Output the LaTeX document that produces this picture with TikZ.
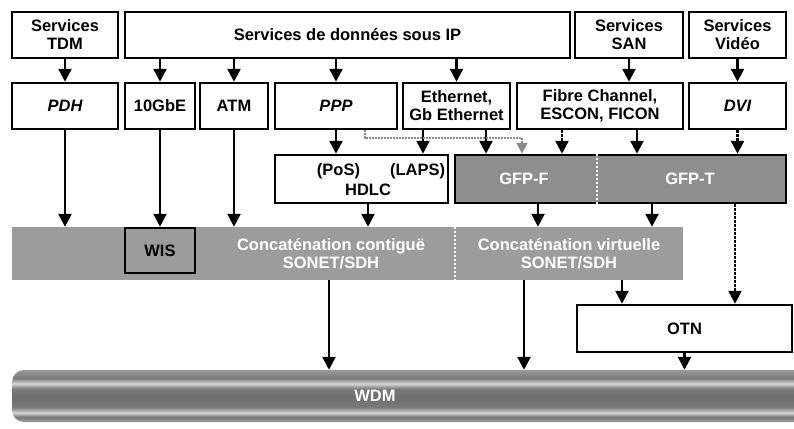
\documentclass[tikz,border=0pt]{standalone}
\usepackage{fontspec}
\setmainfont{Liberation Sans}
\usetikzlibrary{arrows.meta}

\definecolor{bandgray}{HTML}{9C9C9C}
\definecolor{gfpgray}{HTML}{8E8E8E}
\definecolor{busgray}{HTML}{8A8A8A}
\definecolor{wdmedge}{HTML}{9A9A9A}
\definecolor{wdmdark}{HTML}{7A7A7A}
\definecolor{wdmmid}{HTML}{6E6E6E}
\definecolor{wdmlight}{HTML}{D8D8D8}
\pgfdeclareverticalshading{wdmshade}{100bp}{color(0bp)=(wdmedge); color(25bp)=(wdmedge);
    color(30bp)=(wdmdark); color(34bp)=(wdmlight); color(39bp)=(wdmdark); color(50bp)=(wdmmid);
    color(57bp)=(wdmdark); color(62bp)=(wdmlight); color(67bp)=(wdmdark); color(75bp)=(wdmedge);
    color(100bp)=(wdmedge)}
\newcommand{\lblfont}{\fontsize{16.5}{18}\selectfont\bfseries}

\begin{document}
\begin{tikzpicture}[x=1pt,y=-1pt,
    box/.style={draw,line width=2.5pt,fill=white,inner sep=0pt,align=center,font=\lblfont},
    band/.style={fill=bandgray,inner sep=0pt,align=center,font=\lblfont,text=white},
    txt/.style={inner sep=0pt,align=center,font=\lblfont},
    whitetxt/.style={txt,text=white},
    arr/.style={line width=2.5pt,-{Triangle[width=13pt,length=13pt]}},
    dotarr/.style={arr,dash pattern=on 2.5pt off 1.5pt},
    busarr/.style={line width=2pt,busgray,dash pattern=on 2pt off 1pt,-{Triangle[width=11pt,length=11pt]}},
    divider/.style={white,line width=1.5pt,dash pattern=on 2pt off 2pt}]

    \useasboundingbox (0,0) rectangle (794,428);

    \coordinate (ethHdlc) at (423,0);
    \coordinate (ethGfp) at (486,0);
    \coordinate (pppBus) at (365,138);
    \coordinate (busDrop) at (522,0);
    \coordinate (fcGfpF) at (562,0);
    \coordinate (fcGfpT) at (637,0);
    \coordinate (gfpSplit) at (597,0);
    \coordinate (gfpVirtF) at (538,0);
    \coordinate (gfpVirtT) at (652,0);
    \coordinate (gfpOtn) at (735,0);
    \coordinate (virtOtn) at (622,0);
    \coordinate (contigWdm) at (329,0);
    \coordinate (virtWdm) at (524,0);
    \coordinate (wdmNE) at (794,370);
    \coordinate (wdmSW) at (12,422);
    \coordinate (wdmSE) at (794,422);

    \node[box,minimum width=106pt,minimum height=46pt] (tdm) at (65,35) {Services\\TDM};
    \node[box,minimum width=445pt,minimum height=46pt] (ip) at (347.5,35) {Services de données sous IP};
    \node[box,minimum width=108pt,minimum height=46pt] (san) at (629,35) {Services\\SAN};
    \node[box,minimum width=97pt,minimum height=46pt] (video) at (737.5,35) {Services\\Vidéo};

    \node[box,minimum width=106pt,minimum height=46pt] (pdh) at (65,106) {\itshape PDH};
    \node[box,minimum width=70pt,minimum height=46pt] (tengbe) at (160,106) {10GbE};
    \node[box,minimum width=68pt,minimum height=46pt] (atm) at (234,106) {ATM};
    \node[box,minimum width=122pt,minimum height=46pt] (ppp) at (336,106) {\itshape PPP};
    \node[box,minimum width=107pt,minimum height=46pt] (eth) at (456.5,106) {Ethernet,\\Gb Ethernet};
    \node[box,minimum width=166pt,minimum height=46pt] (fc) at (600,106) {Fibre Channel,\\ESCON, FICON};
    \node[box,minimum width=97pt,minimum height=46pt] (dvi) at (737.5,106) {\itshape DVI};

    \node[box,minimum width=173pt,minimum height=48pt] (hdlc) at (361.5,179) {};
    \node[txt] (poslaps) at (381,171) {(PoS)\hspace{30pt}(LAPS)};
    \node[txt] (hdlclbl) at (368,190) {HDLC};
    \node[box,fill=gfpgray,minimum width=331pt,minimum height=48pt] (gfp) at (620.5,179) {};
    \draw[divider] (gfp.north -| gfpSplit) -- (gfp.south -| gfpSplit);
    \node[whitetxt] (gfpf) at (524,179) {GFP-F};
    \node[whitetxt] (gfpt) at (690,179) {GFP-T};

    \node[band,minimum width=443pt,minimum height=53pt] (contig) at (233.5,253.5) {};
    \node[whitetxt] (contiglbl) at (331,253.5) {Concaténation contiguë\\SONET/SDH};
    \node[band,minimum width=228pt,minimum height=53pt] (virt) at (569,253.5) {Concaténation virtuelle\\SONET/SDH};
    \draw[divider] (virt.north west) -- (virt.south west);
    \node[box,fill=bandgray,minimum width=70pt,minimum height=45pt] (wis) at (160,250.5) {WIS};

    \node[box,minimum width=215pt,minimum height=47pt] (otn) at (684.5,328.5) {OTN};

    \shade[shading=wdmshade,rounded corners=12pt] (wdmNE) -| (wdmSW) -- (wdmSE);
    \node[minimum width=782pt,minimum height=52pt,inner sep=0pt] (wdm) at (403,396) {};
    \node[whitetxt] (wdmlbl) at (375,396) {WDM};

    \draw[arr] (tdm) -- (pdh);
    \draw[arr] (ip.south -| tengbe) -- (tengbe);
    \draw[arr] (ip.south -| atm) -- (atm);
    \draw[arr] (ip.south -| ppp) -- (ppp);
    \draw[arr] (ip.south -| eth) -- (eth);
    \draw[arr] (san) -- (fc.north -| san);
    \draw[arr] (video) -- (dvi);

    \draw[arr] (pdh) -- (contig.north -| pdh);
    \draw[arr] (tengbe) -- (wis);
    \draw[arr] (atm) -- (contig.north -| atm);
    \draw[arr] (ppp) -- (hdlc.north -| ppp);
    \draw[arr] (eth.south -| ethHdlc) -- (hdlc.north -| ethHdlc);
    \draw[arr] (eth.south -| ethGfp) -- (gfp.north -| ethGfp);
    \draw[busarr] (ppp.south -| pppBus) -- (pppBus) -| (gfp.north -| busDrop);
    \draw[dotarr] (fc.south -| fcGfpF) -- (gfp.north -| fcGfpF);
    \draw[arr] (fc.south -| fcGfpT) -- (gfp.north -| fcGfpT);
    \draw[dotarr] (dvi) -- (gfp.north -| dvi);

    \draw[arr] (hdlc.south -| hdlclbl) -- (contig.north -| hdlclbl);
    \draw[arr] (gfp.south -| gfpVirtF) -- (virt.north -| gfpVirtF);
    \draw[arr] (gfp.south -| gfpVirtT) -- (virt.north -| gfpVirtT);
    \draw[dotarr] (gfp.south -| gfpOtn) -- (otn.north -| gfpOtn);
    \draw[arr] (virt.south -| virtOtn) -- (otn.north -| virtOtn);
    \draw[arr] (contig.south -| contigWdm) -- (wdm.north -| contigWdm);
    \draw[arr] (virt.south -| virtWdm) -- (wdm.north -| virtWdm);
    \draw[arr] (otn) -- (wdm.north -| otn);
\end{tikzpicture}
\end{document}
